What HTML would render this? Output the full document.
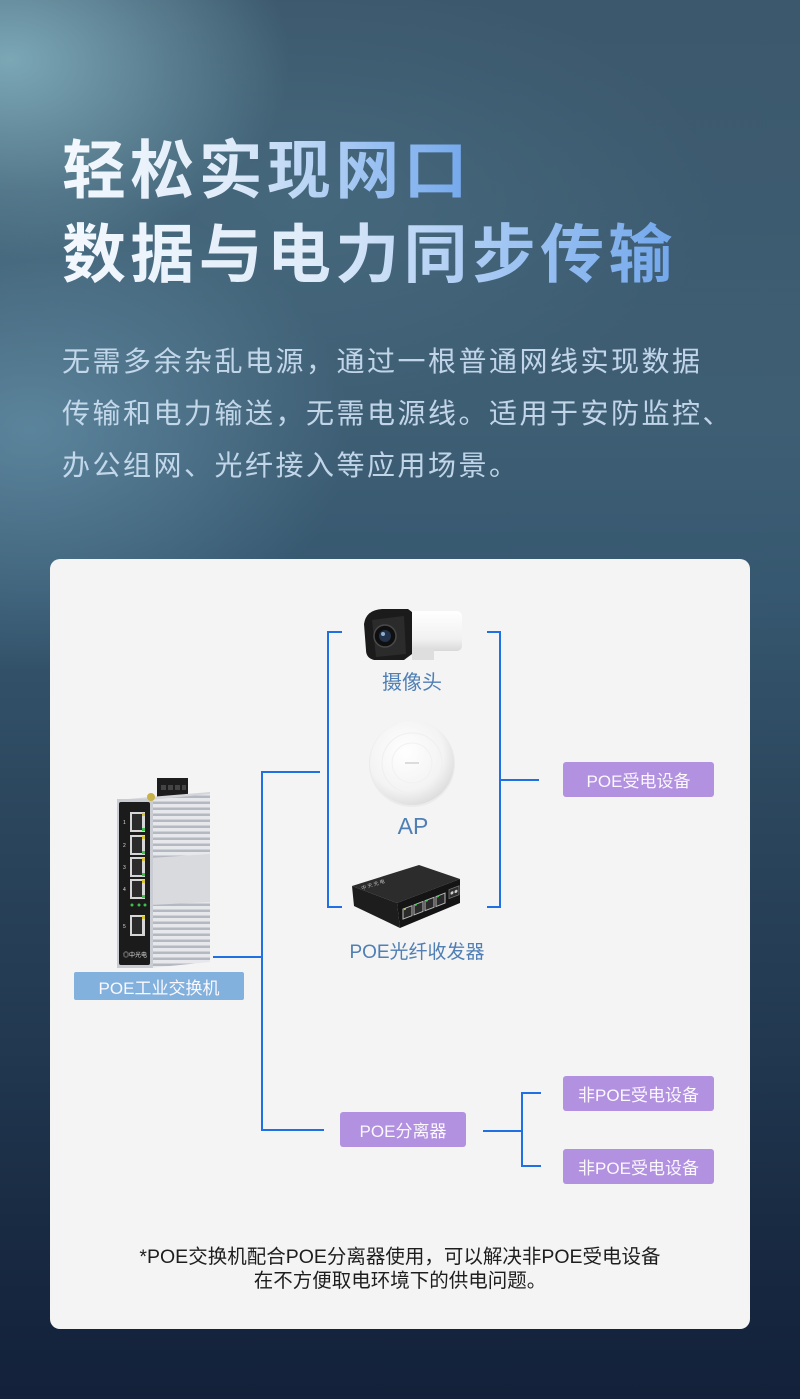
<!DOCTYPE html>
<html><head><meta charset="utf-8">
<style>
*{margin:0;padding:0;box-sizing:border-box}
html,body{width:800px;height:1399px;overflow:hidden}
body{position:relative;font-family:"Liberation Sans","Noto Sans CJK SC",sans-serif;
background:
radial-gradient(ellipse 280px 200px at 10px 60px, rgba(150,200,212,0.7), rgba(150,200,212,0) 100%),
radial-gradient(ellipse 320px 240px at 30px 430px, rgba(120,170,195,0.5), rgba(120,170,195,0) 100%),
radial-gradient(ellipse 420px 220px at 300px 200px, rgba(100,150,170,0.22), rgba(100,150,170,0) 100%),
linear-gradient(180deg,#3c586c 0%,#3e5e74 30%,#365870 42%,#2b465d 58%,#213850 75%,#172840 90%,#13213a 100%);}
.t{position:absolute;left:62px;font-size:64px;font-weight:700;letter-spacing:4.3px;line-height:84px;white-space:nowrap;font-family:"Liberation Sans","Noto Sans CJK SC",sans-serif}
.t span{background:linear-gradient(90deg,#f3f8fd 0%,#e0ecf9 40%,#9cc2f2 75%,#72a7ec 100%);-webkit-background-clip:text;background-clip:text;color:transparent}
.sub{position:absolute;left:62px;top:336px;font-size:28px;letter-spacing:2.5px;line-height:52px;color:rgba(205,224,242,0.92);white-space:nowrap}
.card{position:absolute;left:50px;top:559px;width:700px;height:770px;background:#f4f4f4;border-radius:10px}
.lbl{position:absolute;text-align:center;white-space:nowrap;color:#4f7fb4}
.box{position:absolute;color:#fbf8fe;font-size:17px;display:flex;align-items:center;justify-content:center;border-radius:3px;white-space:nowrap}
.pu{background:#b191e0}
.note{position:absolute;left:0;width:800px;text-align:center;font-size:19.5px;line-height:24px;color:#1e1e1e}
svg{position:absolute;left:0;top:0}
</style></head><body>

<div class="t" style="top:129px"><span>轻松实现网口</span></div>
<div class="t" style="top:213px"><span>数据与电力同步传输</span></div>

<div class="sub">无需多余杂乱电源，通过一根普通网线实现数据<br>传输和电力输送，无需电源线。适用于安防监控、<br>办公组网、光纤接入等应用场景。</div>

<div class="card"></div>

<svg width="800" height="1399" viewBox="0 0 800 1399">
  <defs>
    <linearGradient id="camw" x1="0" y1="0" x2="0" y2="1">
      <stop offset="0" stop-color="#ffffff"/><stop offset="0.7" stop-color="#f1f1f1"/><stop offset="1" stop-color="#d9d9d9"/>
    </linearGradient>
    <radialGradient id="apg" cx="0.42" cy="0.38" r="0.65">
      <stop offset="0" stop-color="#ffffff"/><stop offset="0.7" stop-color="#f3f3f3"/><stop offset="1" stop-color="#dcdcdc"/>
    </radialGradient>
    <pattern id="fins" x="0" y="0" width="8" height="6" patternUnits="userSpaceOnUse">
      <rect width="8" height="6" fill="#e6e8ec"/><rect y="3.5" width="8" height="2.5" fill="#b4b8c1"/>
    </pattern>
  </defs>

  <g stroke="#1f6fe5" stroke-width="2" fill="none">
    <polyline points="342,632 328,632 328,907 342,907"/>
    <polyline points="487,632 500,632 500,907 487,907"/>
    <line x1="500" y1="780" x2="539" y2="780"/>
    <polyline points="320,772 262,772 262,1130 324,1130"/>
    <line x1="213" y1="957" x2="262" y2="957"/>
    <line x1="483" y1="1131" x2="522" y2="1131"/>
    <polyline points="541,1093 522,1093 522,1166 541,1166"/>
  </g>

  <g>
    <rect x="396" y="611" width="66" height="40" rx="5" fill="url(#camw)"/>
    <rect x="412" y="648" width="22" height="12" fill="#dedede"/>
    <path d="M364,624 Q366,610 382,609 L408,609 L412,612 L412,654 L404,660 L374,660 Q366,658 366,650 Z" fill="#1b1b1b"/>
    <path d="M372,620 L404,616 L406,654 L376,657 Z" fill="#2b2b2b"/>
    <circle cx="385" cy="636" r="11" fill="#0f0f0f" stroke="#4a4a4a" stroke-width="1.5"/>
    <circle cx="385" cy="636" r="6" fill="#22324a"/>
    <circle cx="383" cy="634" r="2" fill="#8fb0d0"/>
  </g>

  <g>
    <circle cx="412" cy="764" r="43" fill="#e2e2e2" opacity="0.5"/>
    <circle cx="412" cy="763" r="42" fill="url(#apg)"/>
    <circle cx="412" cy="763" r="30" fill="none" stroke="#efefef" stroke-width="1"/>
    <circle cx="412" cy="763" r="20" fill="none" stroke="#f1f1f1" stroke-width="1"/>
    <rect x="405" y="762.5" width="14" height="1" fill="#bdbdbd"/>
  </g>

  <g>
    <polygon points="352,886 419,865 460,879 397,903" fill="#2c2c2c"/>
    <polygon points="352,886 397,903 400,928 354,906" fill="#1d1d1d"/>
    <polygon points="397,903 460,879 460,903 400,928" fill="#141414"/>
    <g transform="translate(398,903) skewY(-20.85)">
      <rect x="5" y="8" width="9" height="10" fill="#2a2a2a" stroke="#bbb" stroke-width="1"/>
      <rect x="16" y="8" width="9" height="10" fill="#2a2a2a" stroke="#bbb" stroke-width="1"/>
      <rect x="27" y="8" width="9" height="10" fill="#2a2a2a" stroke="#bbb" stroke-width="1"/>
      <rect x="38" y="8" width="9" height="10" fill="#2a2a2a" stroke="#bbb" stroke-width="1"/>
      <rect x="6" y="8" width="2" height="1.5" fill="#c8c23a"/>
      <rect x="17" y="8" width="2" height="1.5" fill="#3ac84a"/>
      <rect x="28" y="8" width="2" height="1.5" fill="#3ac84a"/>
      <rect x="39" y="8" width="2" height="1.5" fill="#3ac84a"/>
      <rect x="51" y="6" width="10" height="9" fill="#2e2e2e" stroke="#777" stroke-width="0.8"/>
      <circle cx="54" cy="10.5" r="1.5" fill="#ccc"/><circle cx="58" cy="10.5" r="1.5" fill="#ccc"/>
    </g>
    <text x="362" y="890" font-size="5" fill="#bbb" transform="rotate(-18 362 890)" font-family="Liberation Sans, Noto Sans CJK SC, sans-serif">中 天 光 电</text>
  </g>

  <g>
    <rect x="157" y="778" width="31" height="19" fill="#1d1d1d"/>
    <rect x="161" y="785" width="5" height="5" fill="#444"/><rect x="168" y="785" width="5" height="5" fill="#444"/>
    <rect x="175" y="785" width="5" height="5" fill="#444"/><rect x="182" y="785" width="4" height="5" fill="#444"/>
    <polygon points="117,800 150,797 210,792 210,798 152,802 117,802" fill="#d4d6db"/>
    <polygon points="150,800 210,794 210,962 150,968" fill="url(#fins)"/>
    <polygon points="150,858 210,854 210,902 150,905" fill="#d8dade"/>
    <rect x="117" y="799" width="36" height="169" fill="#c9ccd2"/>
    <rect x="119" y="802" width="31" height="163" rx="2" fill="#1b1b1b"/>
    <circle cx="151" cy="797" r="4" fill="#c7b148"/>
    <g fill="#d6d6d6">
      <rect x="130" y="812" width="15" height="20"/><rect x="130" y="835" width="15" height="20"/>
      <rect x="130" y="857" width="15" height="20"/><rect x="130" y="879" width="15" height="20"/>
      <rect x="130" y="915" width="15" height="21"/>
    </g>
    <g fill="#2b2b2b">
      <rect x="132" y="814" width="10" height="16"/><rect x="132" y="837" width="10" height="16"/>
      <rect x="132" y="859" width="10" height="16"/><rect x="132" y="881" width="10" height="16"/>
      <rect x="132" y="917" width="10" height="17"/>
    </g>
    <g fill="#d9c53a">
      <rect x="142" y="813" width="3" height="3"/><rect x="142" y="836" width="3" height="3"/>
      <rect x="142" y="858" width="3" height="3"/><rect x="142" y="880" width="3" height="3"/>
      <rect x="142" y="916" width="3" height="3"/>
    </g>
    <g fill="#3fbf4a">
      <rect x="142" y="828" width="3" height="3"/><rect x="142" y="851" width="3" height="3"/>
      <rect x="142" y="873" width="3" height="3"/><rect x="142" y="895" width="3" height="3"/>
      <circle cx="132" cy="905" r="1.5"/><circle cx="139" cy="905" r="1.5"/><circle cx="145" cy="905" r="1.5"/>
    </g>
    <g fill="#ddd" font-size="5" font-family="Liberation Sans, sans-serif">
      <text x="123" y="824">1</text><text x="123" y="847">2</text><text x="123" y="869">3</text>
      <text x="123" y="891">4</text><text x="123" y="928">5</text>
    </g>
    <text x="123" y="957" font-size="6" fill="#e0e0e0" font-family="Liberation Sans, Noto Sans CJK SC, sans-serif">◎中光电</text>
  </g>
</svg>

<div class="lbl" style="left:262px;width:300px;top:670px;font-size:20px;line-height:26px">摄像头</div>
<div class="lbl" style="left:263px;width:300px;top:811px;font-size:23px;line-height:30px">AP</div>
<div class="lbl" style="left:267px;width:300px;top:940px;font-size:19px;line-height:26px">POE光纤收发器</div>

<div class="box pu" style="left:563px;top:762px;width:151px;height:35px">POE受电设备</div>
<div class="box" style="left:74px;top:972px;width:170px;height:28px;background:#82b1dd;border-radius:2px">POE工业交换机</div>
<div class="box pu" style="left:340px;top:1112px;width:126px;height:35px">POE分离器</div>
<div class="box pu" style="left:563px;top:1076px;width:151px;height:35px">非POE受电设备</div>
<div class="box pu" style="left:563px;top:1149px;width:151px;height:35px">非POE受电设备</div>

<div class="note" style="top:1245px">*POE交换机配合POE分离器使用，可以解决非POE受电设备</div>
<div class="note" style="top:1269px">在不方便取电环境下的供电问题。</div>

</body></html>
